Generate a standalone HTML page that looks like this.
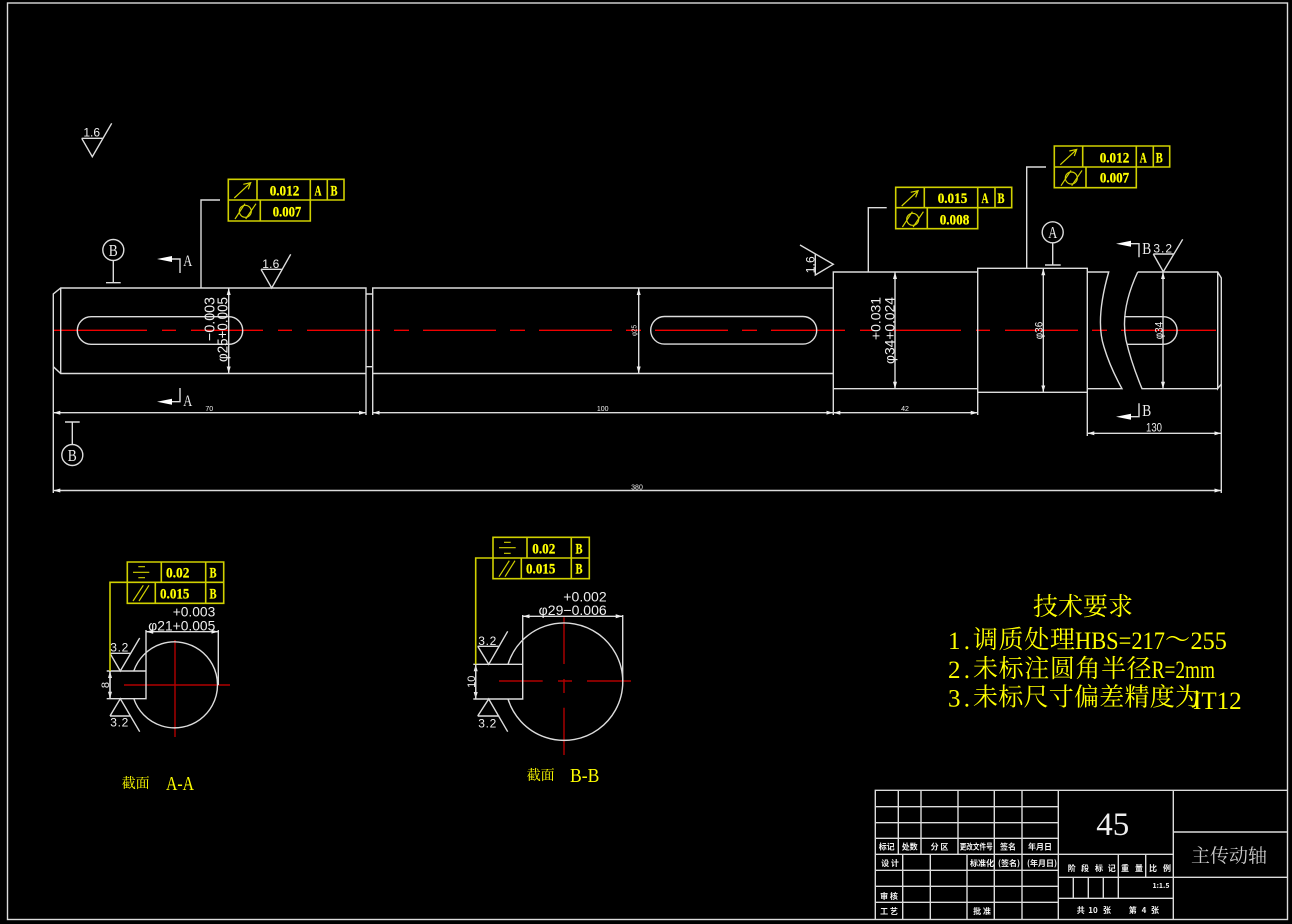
<!DOCTYPE html>
<html><head><meta charset="utf-8"><style>
html,body{margin:0;padding:0;background:#000;width:1292px;height:924px;overflow:hidden}
svg{display:block}
.l{fill:none;stroke:#dcdcdc;stroke-width:1.4}
.y{fill:none;stroke:#d0d000;stroke-width:1.6}
.r{fill:none;stroke:#f00000;stroke-width:1.4}
.dr{fill:none;stroke:#b00000;stroke-width:1.4}
text{font-family:"Liberation Sans","Noto Sans CJK SC",sans-serif;fill:#eee}
.s{font-family:"Liberation Serif","Noto Serif CJK SC",serif}
.t{font-family:"Liberation Serif","Noto Serif CJK SC",serif;fill:#ffff00;font-size:25px}
.v{font-family:"Liberation Serif",serif;font-weight:bold;fill:#ffff00;font-size:15px;stroke:#ffff00;stroke-width:.25}
.k{font-family:"Noto Sans CJK SC",sans-serif;font-weight:bold;font-size:8px;fill:#f4f4f4;text-anchor:middle}
.m{text-anchor:middle}
</style></head><body>
<svg width="1292" height="924" viewBox="0 0 1292 924" xmlns="http://www.w3.org/2000/svg">
<defs>
<marker id="a" markerUnits="userSpaceOnUse" markerWidth="8" markerHeight="6" refX="7" refY="3" orient="auto-start-reverse"><path d="M0 1L7 3L0 5z" fill="#eee"/></marker>
<g id="sym">
<path class="y" style="stroke-width:1.2" d="M6 18.7L22.4 3.4M15 5L22.4 3.4L20 10M6.7 39.7L16.7 24.4M17.4 39.7L27.7 24.4"/>
<circle class="y" style="stroke-width:1.2" cx="17" cy="32" r="6"/>
</g>
</defs>
<rect width="1292" height="924" fill="#000"/>
<rect class="l" x="7.5" y="3" width="1280" height="916.5"/>

<!-- centre line -->
<path class="r" d="M53 330.3H147M162 330.3H176M191 330.3H263M278 330.3H292M307 330.3H380M394 330.3H409M423 330.3H496M510 330.3H525M539 330.3H612M626 330.3H641M655 330.3H728M742 330.3H757M771 330.3H845M860 330.3H874M889 330.3H961M976 330.3H990M1005 330.3H1078M1092 330.3H1107M1121 330.3H1216"/>

<!-- shaft -->
<g class="l">
<path d="M53.3 493V294L60.7 288H366V415M60.7 288V373.5M53.3 366.7L60.7 373.5H366"/>
<path d="M366 294H372.7M366 366.7H372.7"/>
<path d="M372.7 415V288H833.3M372.7 373.5H833.3"/>
<path d="M833.3 415V272H977.7M833.3 388.7H977.7"/>
<rect x="977.7" y="268.3" width="109.6" height="124"/>
<path d="M977.7 392.3V415M1087.3 392.3V436"/>
<path d="M1087.3 272H1108.7Q1095 320 1104 347Q1110 367 1122 388.7H1087.3"/>
<path d="M1137.7 272H1217.7L1221.3 278V493M1217.7 272V388.7L1221.3 384M1217.7 388.7H1142Q1131 362 1126 340Q1120 310 1137.7 272"/>
<path d="M1124.3 316.7H1163.3A13.8 13.8 0 0 1 1163.3 344.3H1127"/>
<rect x="77.3" y="316.7" width="165.4" height="27.6" rx="13.8"/>
<rect x="650.7" y="316.5" width="166" height="27.6" rx="13.8"/>
<!-- leaders -->
<path d="M201 288V200H220M868.3 272V207.7H886.7M1026.7 268.3V167H1046"/>
<!-- datums -->
<circle cx="113.3" cy="250" r="10.5"/><path d="M113.3 260.5V282.7M106 282.7H120.7"/>
<circle cx="72.3" cy="455" r="10.5"/><path d="M72.3 444.5V422M65 422H79.7"/>
<circle cx="1052.7" cy="232.3" r="10.5"/><path d="M1052.7 242.8V265M1045 265H1060.7"/>
<!-- section lines -->
<path d="M171 259H180V273M171 401.7H180V388M1130 243.7H1139V257.3M1130 416.7H1139V403.3"/>
<!-- roughness -->
<path d="M81.7 138.3L92.3 156.7L111.7 123.3M81.7 138.3H102.7"/>
<path d="M261 269.3L271.7 288L290.7 254.3M261 269.3H281.7"/>
<path d="M800 245L833.3 264.3L815.3 275V254"/>
<path d="M1153.3 254L1163.3 271.7L1182.7 239.3M1153.3 254H1174"/>
</g>
<path d="M157 259L172 256V262zM157 401.7L172 398.7V404.7zM1116 243.7L1131 240.7V246.7zM1116 416.7L1131 413.7V419.7z" fill="#fff"/>

<!-- dimensions -->
<g class="l">
<line x1="53.3" y1="412.7" x2="366" y2="412.7" marker-start="url(#a)" marker-end="url(#a)"/>
<line x1="372.7" y1="412.7" x2="833.3" y2="412.7" marker-start="url(#a)" marker-end="url(#a)"/>
<line x1="833.3" y1="412.7" x2="977.7" y2="412.7" marker-start="url(#a)" marker-end="url(#a)"/>
<line x1="53.3" y1="490.5" x2="1221.3" y2="490.5" marker-start="url(#a)" marker-end="url(#a)"/>
<line x1="1087.3" y1="433.3" x2="1221.3" y2="433.3" marker-start="url(#a)" marker-end="url(#a)"/>
<line x1="228.7" y1="288" x2="228.7" y2="373.5" marker-start="url(#a)" marker-end="url(#a)"/>
<line x1="638.7" y1="288" x2="638.7" y2="373.5" marker-start="url(#a)" marker-end="url(#a)"/>
<line x1="895" y1="272" x2="895" y2="388.7" marker-start="url(#a)" marker-end="url(#a)"/>
<line x1="1043.3" y1="268.3" x2="1043.3" y2="392.3" marker-start="url(#a)" marker-end="url(#a)"/>
<line x1="1163" y1="272" x2="1163" y2="388.7" marker-start="url(#a)" marker-end="url(#a)"/>
<line x1="146" y1="631.7" x2="218.3" y2="631.7" marker-start="url(#a)" marker-end="url(#a)"/>
<line x1="522.7" y1="616.3" x2="622.7" y2="616.3" marker-start="url(#a)" marker-end="url(#a)"/>
<line x1="110" y1="671" x2="110" y2="698.7" marker-start="url(#a)" marker-end="url(#a)"/>
<line x1="475.7" y1="664.3" x2="475.7" y2="699" marker-start="url(#a)" marker-end="url(#a)"/>
</g>
<text class="m" x="209.3" y="411" font-size="7">70</text>
<text class="m" x="602.7" y="411" font-size="7">100</text>
<text class="m" x="905" y="411" font-size="7">42</text>
<text class="m" x="637" y="489.3" font-size="7">380</text>
<text class="m" x="1154" y="431.7" font-size="11.5" textLength="16" lengthAdjust="spacingAndGlyphs">130</text>
<text font-size="14.5" transform="translate(227.3,362) rotate(-90)" textLength="65" lengthAdjust="spacingAndGlyphs">φ25+0.005</text>
<text font-size="14.5" transform="translate(214.7,341) rotate(-90)" textLength="44" lengthAdjust="spacingAndGlyphs">−0.003</text>
<text font-size="14" transform="translate(894.3,364) rotate(-90)" textLength="67" lengthAdjust="spacingAndGlyphs">φ34+0.024</text>
<text font-size="14" transform="translate(880.7,340) rotate(-90)" textLength="43" lengthAdjust="spacingAndGlyphs">+0.031</text>
<text font-size="11" transform="translate(1042.3,339.3) rotate(-90)" textLength="17.6" lengthAdjust="spacingAndGlyphs">φ36</text>
<text font-size="11" transform="translate(1162.3,339.3) rotate(-90)" textLength="17.6" lengthAdjust="spacingAndGlyphs">φ34</text>
<text font-size="7" transform="translate(636.7,336) rotate(-90)" textLength="11" lengthAdjust="spacingAndGlyphs">φ25</text>

<!-- roughness labels -->
<text class="m" x="91.7" y="136.7" font-size="12" textLength="16.7">1.6</text>
<text class="m" x="270.8" y="268" font-size="12" textLength="17">1.6</text>
<text font-size="12" transform="translate(814.3,273.3) rotate(-90)" textLength="17">1.6</text>
<text class="m" x="1162.7" y="252.7" font-size="12" textLength="18.7">3.2</text>

<!-- letters -->
<text class="s m" x="113.3" y="255.8" font-size="17" textLength="9" lengthAdjust="spacingAndGlyphs">B</text>
<text class="s m" x="72.3" y="460.8" font-size="17" textLength="9" lengthAdjust="spacingAndGlyphs">B</text>
<text class="s m" x="1052.7" y="238" font-size="17" textLength="9" lengthAdjust="spacingAndGlyphs">A</text>
<text class="s m" x="187.7" y="266" font-size="16" textLength="9" lengthAdjust="spacingAndGlyphs">A</text>
<text class="s m" x="187.7" y="406" font-size="16" textLength="9" lengthAdjust="spacingAndGlyphs">A</text>
<text class="s m" x="1146.7" y="254" font-size="17" textLength="9" lengthAdjust="spacingAndGlyphs">B</text>
<text class="s m" x="1146.7" y="416" font-size="17" textLength="9" lengthAdjust="spacingAndGlyphs">B</text>

<!-- FCF 1 -->
<path class="y" d="M228.3 179.3H344V200H228.3zM228.3 200V221H310.3V200M257 179.3V200M310.3 179.3V200M327.3 179.3V200M260.3 200V221"/>
<use href="#sym" x="228.3" y="179.3"/>
<text class="v m" x="284.5" y="195.7" textLength="29.6" lengthAdjust="spacingAndGlyphs">0.012</text>
<text class="v m" x="318" y="195.7" textLength="7" lengthAdjust="spacingAndGlyphs">A</text><text class="v m" x="334" y="195.7" textLength="7" lengthAdjust="spacingAndGlyphs">B</text>
<text class="v m" x="287" y="216.7" textLength="28.6" lengthAdjust="spacingAndGlyphs">0.007</text>
<!-- FCF 2 -->
<path class="y" d="M895.7 187.3H1011.7V207.7H895.7zM895.7 207.7V228.7H977.7V207.7M924.3 187.3V207.7M977.7 187.3V207.7M995 187.3V207.7M927.3 207.7V228.7"/>
<use href="#sym" x="895.7" y="187.3"/>
<text class="v m" x="952.5" y="203" textLength="29.6" lengthAdjust="spacingAndGlyphs">0.015</text>
<text class="v m" x="985" y="203" textLength="7" lengthAdjust="spacingAndGlyphs">A</text><text class="v m" x="1001" y="203" textLength="7" lengthAdjust="spacingAndGlyphs">B</text>
<text class="v m" x="954.5" y="224.7" textLength="29.6" lengthAdjust="spacingAndGlyphs">0.008</text>
<!-- FCF 3 -->
<path class="y" d="M1054.3 146H1169.7V167H1054.3zM1054.3 167V187.7H1136.3V167M1082.7 146V167M1136.3 146V167M1153.3 146V167M1086 167V187.7"/>
<use href="#sym" x="1054.3" y="146"/>
<text class="v m" x="1114.5" y="162.3" textLength="29.6" lengthAdjust="spacingAndGlyphs">0.012</text>
<text class="v m" x="1143.3" y="162.3" textLength="7" lengthAdjust="spacingAndGlyphs">A</text><text class="v m" x="1159.3" y="162.3" textLength="7" lengthAdjust="spacingAndGlyphs">B</text>
<text class="v m" x="1114.5" y="182.3" textLength="29.3" lengthAdjust="spacingAndGlyphs">0.007</text>

<!-- Section A-A -->
<path class="dr" d="M124 685H230M175 640V737"/>
<g class="l">
<path d="M133.8 671A43 43 0 1 1 133.8 698.7"/>
<path d="M106.7 671H146V698.7H106.7M110 671V698.7M146 630V671M218.3 630V685"/>
<path d="M110 653.3L120.3 671L139.7 638M110 653.3H130.7"/>
<path d="M110 716L120.3 698.7L139.7 731.7M110 716H130.7"/>
</g>
<path class="y" d="M127.3 562H223.7V582.3H127.3zM127.3 582.3V603.3H223.7V582.3M161.3 562V582.3M205.7 562V603.3M155.3 582.3V603.3M127.3 582.3H110V671"/>
<path class="y" style="stroke-width:1.2" d="M138.3 566.7H145M133 572.3H149.3M138.3 577.7H145M133 601L143.3 585.3M139 601L149 585.3"/>
<text class="v m" x="177.7" y="577.3" textLength="23.3" lengthAdjust="spacingAndGlyphs">0.02</text>
<text class="v m" x="213" y="577.3" textLength="7" lengthAdjust="spacingAndGlyphs">B</text>
<text class="v m" x="174.7" y="598.3" textLength="29.3" lengthAdjust="spacingAndGlyphs">0.015</text>
<text class="v m" x="213" y="598.3" textLength="7" lengthAdjust="spacingAndGlyphs">B</text>
<text x="172.7" y="616.7" font-size="14" textLength="42.6" lengthAdjust="spacingAndGlyphs">+0.003</text>
<text x="148.3" y="630.7" font-size="14" textLength="67" lengthAdjust="spacingAndGlyphs">φ21+0.005</text>
<text class="m" font-size="11" transform="translate(109,685) rotate(-90)">8</text>
<text class="m" x="119.3" y="651.7" font-size="12" textLength="18">3.2</text>
<text class="m" x="119.3" y="726.7" font-size="12" textLength="18">3.2</text>
<text class="t" style="font-size:14px" x="121.7" y="788">截面</text>
<text class="t" style="font-size:20px" x="166" y="790" textLength="28" lengthAdjust="spacingAndGlyphs">A-A</text>

<!-- Section B-B -->
<path class="dr" d="M499 681H542.7M558 681H572M587 681H631M564 617.3V664M564 679V693M564 707.7V755"/>
<g class="l">
<path d="M508 664.3A58.7 58.7 0 1 1 508 699"/>
<path d="M473.3 664.3H522.7V699H473.3M475.7 664.3V699M522.7 615V664.3M622.7 615V681"/>
<path d="M477.7 646.3L488.7 664.3L507.7 631.3M477.7 646.3H499.3"/>
<path d="M477.7 716L488.7 699L507.7 731.7M477.7 716H499.3"/>
</g>
<path class="y" d="M493 537.3H589.3V558H493zM493 558V578.7H589.3V558M527 537.3V558M571.3 537.3V578.7M521.3 558V578.7M493 558H475.7V664.3"/>
<path class="y" style="stroke-width:1.2" d="M504 542.3H510.7M499 547.7H515.7M504 553.3H510.7M499 576.7L509.3 560.7M505 576.7L515 560.7"/>
<text class="v m" x="543.8" y="553.3" textLength="23" lengthAdjust="spacingAndGlyphs">0.02</text>
<text class="v m" x="579" y="553.3" textLength="7" lengthAdjust="spacingAndGlyphs">B</text>
<text class="v m" x="540.7" y="573.7" textLength="29.3" lengthAdjust="spacingAndGlyphs">0.015</text>
<text class="v m" x="579" y="573.7" textLength="7" lengthAdjust="spacingAndGlyphs">B</text>
<text x="563.3" y="601.7" font-size="14" textLength="43.4" lengthAdjust="spacingAndGlyphs">+0.002</text>
<text x="538.7" y="615" font-size="14" textLength="68" lengthAdjust="spacingAndGlyphs">φ29−0.006</text>
<text class="m" font-size="11" transform="translate(475,681.7) rotate(-90)">10</text>
<text class="m" x="487.3" y="645" font-size="12" textLength="18">3.2</text>
<text class="m" x="487.3" y="727.3" font-size="12" textLength="18">3.2</text>
<text class="t" style="font-size:14px" x="526.7" y="780">截面</text>
<text class="t" style="font-size:20px" x="570" y="782" textLength="29.3" lengthAdjust="spacingAndGlyphs">B-B</text>

<!-- Technical notes -->
<text class="t" x="1033" y="615">技术要求</text>
<text class="t" x="948" y="649" textLength="22">1.</text>
<text class="t" x="973" y="648" textLength="102">调质处理</text>
<text class="t" x="1075" y="649" textLength="90" lengthAdjust="spacingAndGlyphs">HBS=217</text>
<text class="t" x="1165" y="648">～</text>
<text class="t" x="1190.5" y="649" textLength="36.3" lengthAdjust="spacingAndGlyphs">255</text>
<text class="t" x="948" y="678" textLength="22">2.</text>
<text class="t" x="973" y="677" textLength="178.7">未标注圆角半径</text>
<text class="t" x="1151.7" y="678" textLength="63.3" lengthAdjust="spacingAndGlyphs">R=2mm</text>
<text class="t" x="948" y="706.7" textLength="22">3.</text>
<text class="t" x="973" y="705.5" textLength="227">未标尺寸偏差精度为</text>
<text class="t" x="1193" y="709" textLength="48.7" lengthAdjust="spacingAndGlyphs">IT12</text>

<!-- Title block -->
<g class="l">
<path d="M875.3 919.5V790.3H1287.5"/>
<path d="M875.3 806.7H1058.3M875.3 822.7H1058.3M875.3 838.3H1058.3M875.3 854.3H1173.3M875.3 870.3H1058.3M875.3 886.3H1058.3M875.3 902.3H1058.3"/>
<path d="M898.3 790.3V854.3M921 790.3V854.3M958 790.3V854.3M994.3 790.3V919.5M1022 790.3V919.5M1058.3 790.3V919.5"/>
<path d="M902.7 854.3V919.5M930.3 854.3V919.5M967 854.3V919.5"/>
<path d="M1173.3 790.3V919.5M1173.3 832H1287.5M1058.3 877.3H1287.5M1058.3 898.3H1173.3"/>
<path d="M1118.3 854.3V898.3M1145.7 854.3V877.3M1073.3 877.3V898.3M1088.3 877.3V898.3M1103.3 877.3V898.3"/>
</g>
<text class="k" x="886.7" y="849.5">标记</text><text class="k" x="909.7" y="849.5">处数</text>
<text class="k" x="939.5" y="849.5">分  区</text><text class="k" x="976.2" y="849.5" textLength="33" lengthAdjust="spacingAndGlyphs">更改文件号</text>
<text class="k" x="1008" y="849.5">签名</text><text class="k" x="1040" y="849.5">年月日</text>
<text class="k" x="890" y="866">设  计</text><text class="k" x="982" y="866">标准化</text>
<text class="k" x="1009" y="866">(签名)</text><text class="k" x="1042" y="866">(年月日)</text>
<text class="k" x="889" y="899">审  核</text><text class="k" x="889" y="914">工  艺</text>
<text class="k" x="982" y="914">批  准</text>
<text class="k" x="1071.7" y="871">阶</text><text class="k" x="1085" y="871">段</text><text class="k" x="1099" y="871">标</text><text class="k" x="1111.7" y="871">记</text>
<text class="k" x="1125" y="871">重</text><text class="k" x="1139" y="871">量</text>
<text class="k" x="1153" y="871">比</text><text class="k" x="1167" y="871">例</text>
<text class="k" x="1161" y="888" style="font-size:7px">1:1.5</text>
<text class="k" x="1080.7" y="913">共</text><text class="k" x="1093" y="913">10</text><text class="k" x="1107" y="913">张</text>
<text class="k" x="1132.7" y="913">第</text><text class="k" x="1144" y="913">4</text><text class="k" x="1155" y="913">张</text>
<text class="s m" x="1112.7" y="835" font-size="33">45</text>
<text class="s m" x="1229" y="862" font-size="19" style="fill:#ccc">主传动轴</text>
</svg>
</body></html>
